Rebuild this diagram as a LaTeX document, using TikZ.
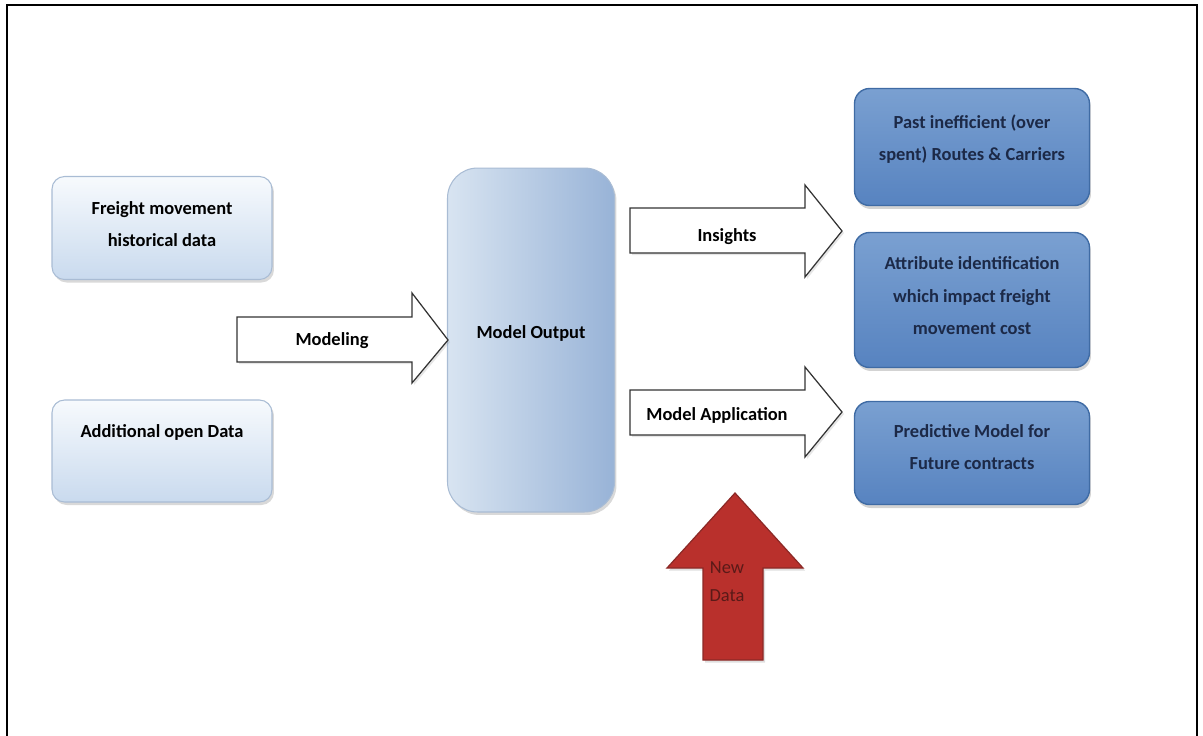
\documentclass[tikz,border=0pt]{standalone}
\usepackage{fontspec}
\setmainfont{Carlito}
\usetikzlibrary{shadows}

\definecolor{paleedge}{HTML}{A9BCD4}
\definecolor{paletop}{HTML}{F7FAFD}
\definecolor{palebot}{HTML}{C9DAEE}
\definecolor{outleft}{HTML}{D8E4F1}
\definecolor{outright}{HTML}{98B3D7}
\definecolor{deeptop}{HTML}{7AA0D1}
\definecolor{deepmid}{HTML}{A9C3E3}
\definecolor{deepbot}{HTML}{5783C0}
\definecolor{deepedge}{HTML}{3F6BA4}
\definecolor{navytext}{HTML}{1C2947}
\definecolor{redside}{HTML}{B9302C}
\definecolor{redmid}{HTML}{E2605B}
\definecolor{rededge}{HTML}{8C2926}
\definecolor{redtext}{HTML}{5A1A18}

\begin{document}
\begin{tikzpicture}[
		x=0.02cm, y=-0.02cm,
		every node/.style={font=\fontsize{10.5}{18.5}\selectfont\bfseries, align=center},
		palebox/.style={draw=paleedge, line width=0.6pt, rounded corners=0.25cm,
			top color=paletop, bottom color=palebot,
			minimum width=4.4cm,
			drop shadow={opacity=0.3, shadow xshift=0.04cm, shadow yshift=-0.06cm}},
		deepbox/.style={draw=deepedge, line width=0.8pt, rounded corners=0.3cm,
			top color=deeptop, middle color=deepmid, bottom color=deepbot,
			minimum width=4.7cm,
			drop shadow={opacity=0.35, shadow xshift=0.03cm, shadow yshift=-0.07cm}},
		deeptext/.style={text=navytext},
		blockarrow/.style={draw=black!80, line width=0.7pt, fill=white,
			drop shadow={opacity=0.2, shadow xshift=0.04cm, shadow yshift=-0.04cm}},
	]
	\useasboundingbox (0,0) rectangle (1203,735);
	\draw[line width=1.4pt] (7,745) -- (7,5) -- (1197,5) -- (1197,745);

	% input boxes
	\node[palebox, minimum height=2.06cm] (freight) at (162,228) {};
	\node (freighttext) at (162,224) {Freight movement\\historical data};
	\node[palebox, minimum height=2.04cm] (additional) at (162,451) {};
	\node (additionaltext) at (162,432) {Additional open Data};

	% model
	\node[draw=paleedge, line width=0.6pt, rounded corners=0.6cm, left color=outleft, right color=outright,
		minimum width=3.34cm, minimum height=6.88cm,
		drop shadow={opacity=0.3, shadow xshift=0.04cm, shadow yshift=-0.06cm}] (modelout) at (531,340) {};
	\node (outtext) at (531,333) {Model Output};

	% results
	\node[deepbox, minimum height=2.34cm] (past) at (972,147) {};
	\node[deeptext] (pasttext) at (972,139) {Past inefficient (over\\spent) Routes \& Carriers};
	\node[deepbox, minimum height=2.7cm] (attrib) at (972,300) {};
	\node[deeptext] (attribtext) at (972,296) {Attribute identification\\which impact freight\\movement cost};
	\node[deepbox, minimum height=2.06cm] (predict) at (972,453) {};
	\node[deeptext] (predicttext) at (972,447) {Predictive Model for\\Future contracts};

	% block arrows
	\draw[blockarrow] (237,317) -- (412,317) -- (412,293) -- (448,340) -- (412,383) -- (412,362) -- (237,362) -- cycle;
	\node (modeling) at (332,341) {Modeling};

	\draw[blockarrow] (630,208) -- (805,208) -- (805,185) -- (842,231) -- (805,277) -- (805,253) -- (630,253) -- cycle;
	\node (insights) at (727,237) {Insights};

	\draw[blockarrow] (630,390) -- (805,390) -- (805,367) -- (842,412) -- (805,457) -- (805,435) -- (630,435) -- cycle;
	\node (application) at (717,415) {Model Application};

	% new data
	\draw[draw=rededge, line width=0.7pt, left color=redside, middle color=redmid, right color=redside,
		drop shadow={opacity=0.25, shadow xshift=0.04cm, shadow yshift=-0.05cm}]
		(703,660) -- (703,568) -- (667,568) -- (735,493) -- (803,568) -- (763,568) -- (763,660) -- cycle;
	\node[font=\fontsize{10.5}{16}\selectfont, text=redtext] (newdata) at (727,582) {New\\Data};
\end{tikzpicture}
\end{document}
